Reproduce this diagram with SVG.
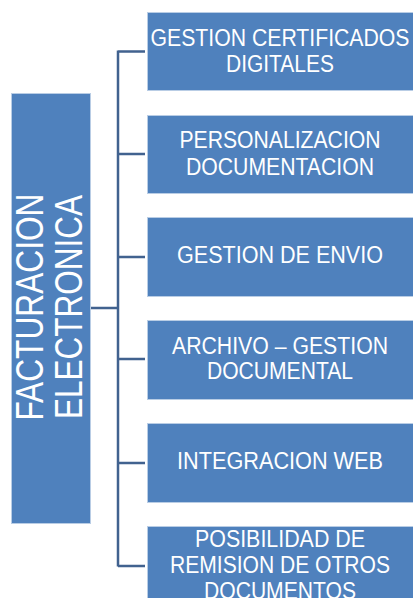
<svg xmlns="http://www.w3.org/2000/svg" width="413" height="598" viewBox="0 0 413 598">
<style>
.box{fill:#4F81BD;stroke:#B9CDE5;stroke-width:1}
.t{fill:#ffffff;font-family:"Liberation Sans",Arial,sans-serif;font-size:23px;text-anchor:middle}
.big{fill:#ffffff;font-family:"Liberation Sans",Arial,sans-serif;font-size:39px;text-anchor:middle}
.c{stroke:#41628F;stroke-width:2.5;fill:none}
</style>
<rect width="413" height="598" fill="#ffffff"/>
<g id="connectors">
<path class="c" d="M118 50.5 V566.5 M118 51.5 H145 M118 154 H145 M118 257 H145 M118 359 H145 M118 463 H145 M118 566 H145 M91 308 H118"/>
</g>
<g id="root">
<rect class="box" x="11.5" y="93.5" width="79" height="430"/>
<text class="big" transform="translate(43,307) rotate(-90)" textLength="227" lengthAdjust="spacingAndGlyphs">FACTURACION</text>
<text class="big" transform="translate(82,307) rotate(-90)" textLength="224" lengthAdjust="spacingAndGlyphs">ELECTRONICA</text>
</g>
<g id="n1">
<rect class="box" x="147.5" y="12.5" width="267" height="78"/>
<text class="t" x="280" y="46" textLength="259" lengthAdjust="spacingAndGlyphs">GESTION CERTIFICADOS</text>
<text class="t" x="280" y="72" textLength="108" lengthAdjust="spacingAndGlyphs">DIGITALES</text>
</g>
<g id="n2">
<rect class="box" x="147.5" y="115.5" width="267" height="78"/>
<text class="t" x="280" y="148" textLength="201" lengthAdjust="spacingAndGlyphs">PERSONALIZACION</text>
<text class="t" x="280" y="175" textLength="188" lengthAdjust="spacingAndGlyphs">DOCUMENTACION</text>
</g>
<g id="n3">
<rect class="box" x="147.5" y="217.5" width="267" height="79"/>
<text class="t" x="280" y="263" textLength="206" lengthAdjust="spacingAndGlyphs">GESTION DE ENVIO</text>
</g>
<g id="n4">
<rect class="box" x="147.5" y="320.5" width="267" height="79"/>
<text class="t" x="280" y="354" textLength="216" lengthAdjust="spacingAndGlyphs">ARCHIVO – GESTION</text>
<text class="t" x="280" y="379" textLength="146" lengthAdjust="spacingAndGlyphs">DOCUMENTAL</text>
</g>
<g id="n5">
<rect class="box" x="147.5" y="423.5" width="267" height="79"/>
<text class="t" x="280" y="469" textLength="206" lengthAdjust="spacingAndGlyphs">INTEGRACION WEB</text>
</g>
<g id="n6">
<rect class="box" x="147.5" y="526.5" width="267" height="79"/>
<text class="t" x="280" y="547" textLength="170" lengthAdjust="spacingAndGlyphs">POSIBILIDAD DE</text>
<text class="t" x="280" y="573" textLength="220" lengthAdjust="spacingAndGlyphs">REMISION DE OTROS</text>
<text class="t" x="280" y="599" textLength="152" lengthAdjust="spacingAndGlyphs">DOCUMENTOS</text>
</g>
</svg>
